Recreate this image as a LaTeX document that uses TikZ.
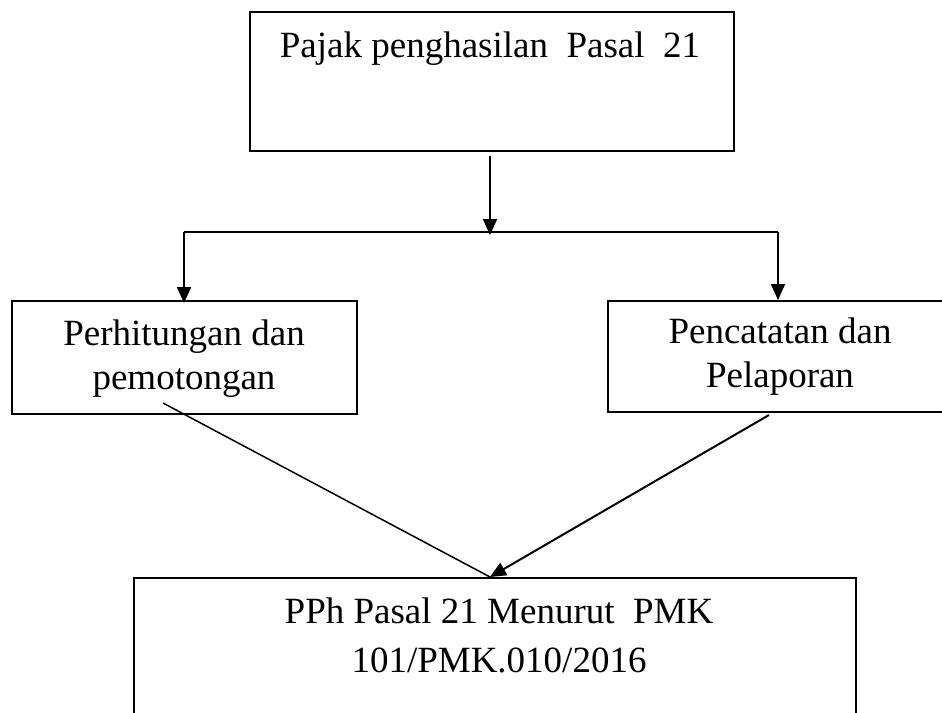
\documentclass[tikz,border=0pt]{standalone}
\usepackage{fontspec}
\setmainfont{Liberation Serif}
\usetikzlibrary{arrows.meta}
\begin{document}
\begin{tikzpicture}[x=1pt,y=-1pt,
  box/.style={draw, line width=2pt, inner sep=0pt},
  txt/.style={inner sep=0pt, font=\fontsize{37}{44}\selectfont},
  conn/.style={line width=2pt},
  arr/.style={line width=2pt, -{Triangle[length=16pt,width=14pt]}},
  thinconn/.style={line width=1.5pt}]
\path[use as bounding box, clip] (0,0) rectangle (942,712);
% boxes
\node[box, minimum width=484pt, minimum height=139pt] (topbox) at (492,81.3) {};
\node[box, minimum width=345pt, minimum height=113pt] (lbox) at (184.5,357.5) {};
\node[box, minimum width=344pt, minimum height=111pt] (rbox) at (780,356.5) {};
\node[box, minimum width=722pt, minimum height=182pt] (bbox) at (495,669) {};
% texts
\node[txt, anchor=base] (ttop) at (490,57) {Pajak penghasilan\ \ Pasal\ \ 21};
\node[txt, anchor=north, align=center] (tleft) at (184,320) {Perhitungan dan\\pemotongan};
\node[txt, anchor=north, align=center] (tright) at (780,318) {Pencatatan dan\\Pelaporan};
\node[txt, anchor=north, align=center, font=\fontsize{37}{49}\selectfont] (tbot) at (499,598) {PPh Pasal 21 Menurut\ \ PMK\\101/PMK.010/2016};
% connectors
\coordinate (j) at (490,232);
\coordinate (jl) at (184,232);
\coordinate (jr) at (778,232);
\coordinate (ls) at (163,403);
\coordinate (rs) at (769,415);
\coordinate (m) at (490,577);
\draw[arr] ([yshift=-4pt]topbox.south -| j) -- ([yshift=-3pt]j);
\draw[conn] (jl) -- (jr);
\draw[arr] (jl) -- ([yshift=-3pt]lbox.north -| jl);
\draw[arr] (jr) -- (rbox.north -| jr);
\draw[thinconn] (ls) -- (m);
\draw[arr] (rs) -- (m);
\end{tikzpicture}
\end{document}
